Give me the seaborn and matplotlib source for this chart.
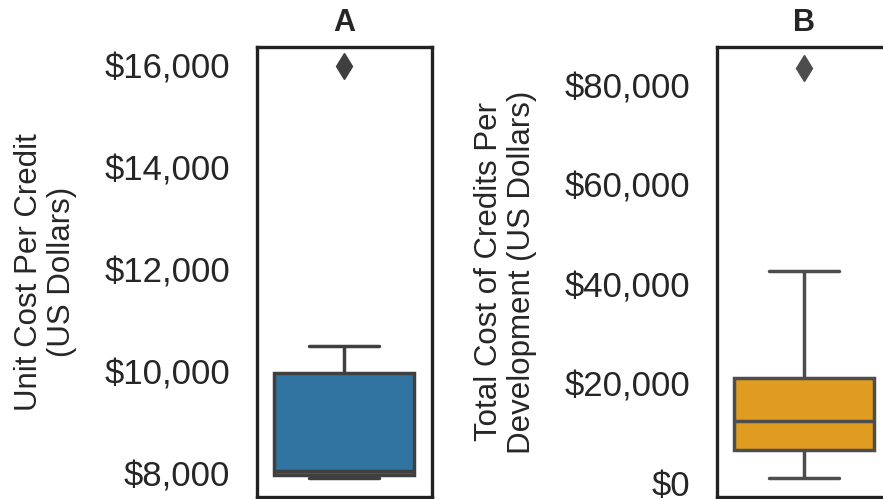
import matplotlib
matplotlib.use("Agg")
import matplotlib.pyplot as plt
import matplotlib.ticker as mticker
import numpy as np
import pandas as pd
import seaborn as sns

# Unit cost per credit (USD) across projects
unit_cost = [7910, 7940, 7970, 8010, 8050, 8600, 9970, 10500, 16000]
# Total cost of credits per development (USD)
total_cost = [970, 3500, 6550, 9800, 12450, 17000, 21120, 42680, 83470]

panel_titles = ["A", "B"]
panel_labels = ["Unit Cost Per Credit\n(US Dollars)",
                "Total Cost of Credits Per\nDevelopment (US Dollars)"]
panel_colors = ["#1f77b4", "orange"]
panel_ticks = [[8000, 10000, 12000, 14000, 16000],
               [0, 20000, 40000, 60000, 80000]]
panel_limits = [(7540, 16370), (-2920, 87820)]

sns.set_theme(style="white")
plt.rcParams["font.family"] = ["Liberation Sans", "DejaVu Sans"]
plt.rcParams["axes.edgecolor"] = "#222222"
plt.rcParams["axes.linewidth"] = 2.4

W, H = 883, 499
fig = plt.figure(figsize=(W / 100, H / 100), dpi=100)

axes_px = [(256.7, 46.7, 175.0, 450.3), (716.7, 46.7, 175.0, 450.3)]

for values, title, label, color, ticks, lims, (x0, y0, w, h) in zip(
        [unit_cost, total_cost], panel_titles, panel_labels, panel_colors,
        panel_ticks, panel_limits, axes_px):
    ax = fig.add_axes([x0 / W, (H - y0 - h) / H, w / W, h / H])
    df = pd.DataFrame({"value": values})
    sns.boxplot(data=df, y="value", color=color, width=0.8, linewidth=2.5,
                fliersize=13, flierprops={"marker": "d"}, ax=ax)
    # fill the outlier diamonds with the same gray used for the box lines
    line_gray = ax.lines[0].get_color()
    for ln in ax.lines:
        if ln.get_marker() == "d":
            ln.set_markerfacecolor(line_gray)
            ln.set_markeredgecolor(line_gray)
    ax.set_xlim(-0.5, 0.5)
    ax.set_ylim(*lims)
    ax.set_yticks(ticks)
    ax.yaxis.set_major_formatter(mticker.FuncFormatter(lambda v, p: f"${v:,.0f}"))
    ax.tick_params(axis="y", labelsize=25, pad=19, length=0, colors="#262626")
    ax.set_xticks([])
    ax.set_xlabel("")
    ax.set_ylabel(label, fontsize=22.5, color="#262626", labelpad=20,
                  linespacing=1.1)
    ax.set_title(title, fontsize=22, fontweight="bold", pad=11, color="#262626")
    for s in ax.spines.values():
        s.set_visible(True)

fig.savefig("out.png", dpi=100)
